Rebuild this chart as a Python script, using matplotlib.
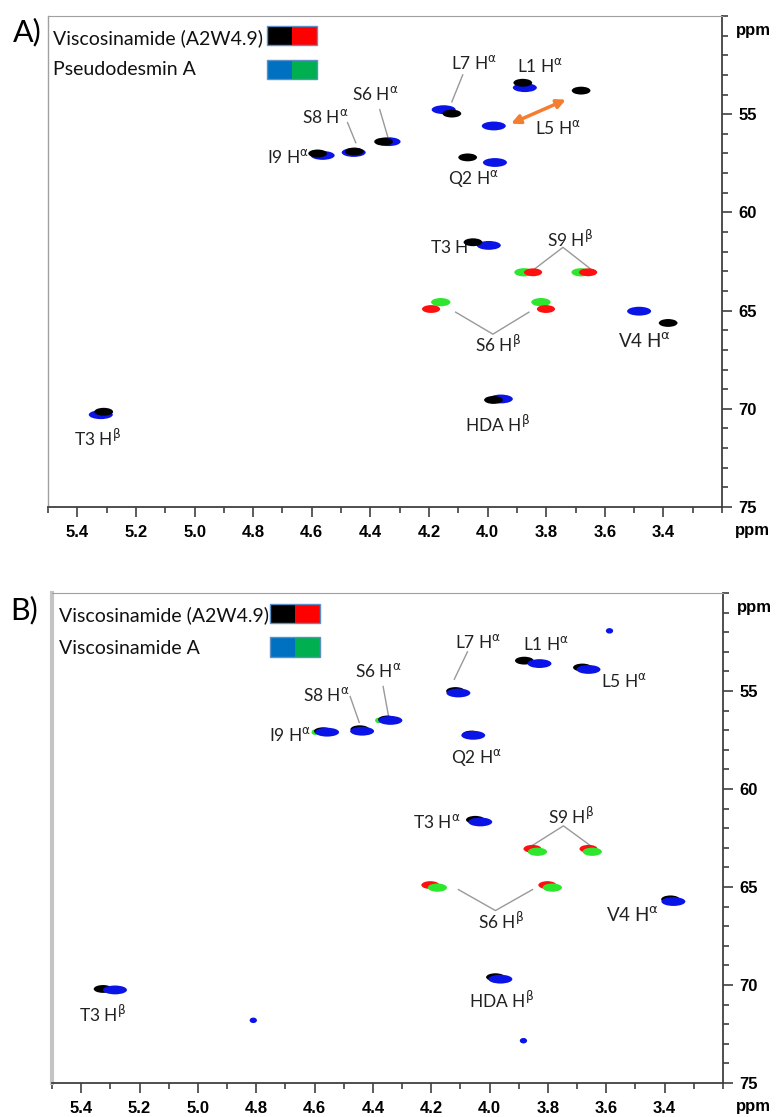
import matplotlib.pyplot as plt
from matplotlib.patches import Ellipse, Rectangle
from matplotlib.ticker import MultipleLocator

plt.rcParams['font.family'] = ['Lato', 'DejaVu Sans']
plt.rcParams['mathtext.fontset'] = 'dejavusans'

# Peak positions: 1H shift (ppm), 13C shift (ppm)
# Panel A - Viscosinamide (A2W4.9) vs Pseudodesmin A
a_black_h = [4.58, 4.455, 4.355, 4.122, 3.880, 3.681, 4.068, 4.050, 3.384, 5.310, 3.980]
a_black_c = [57.0, 56.90, 56.40, 54.97, 53.40, 53.80, 57.20, 61.52, 65.63, 70.15, 69.55]
a_blue_h = [4.563, 4.457, 4.338, 4.150, 3.873, 3.979, 3.975, 3.996, 3.483, 5.320, 3.955]
a_blue_c = [57.10, 56.95, 56.40, 54.77, 53.65, 55.60, 57.46, 61.68, 65.03, 70.30, 69.50]
a_red_h = [3.845, 3.657, 4.193, 3.801]
a_red_c = [63.05, 63.05, 64.92, 64.92]
a_green_h = [3.876, 3.681, 4.160, 3.818]
a_green_c = [63.05, 63.05, 64.57, 64.57]

# Panel B - Viscosinamide (A2W4.9) vs Viscosinamide A
b_black_h = [4.570, 4.445, 4.350, 4.117, 3.881, 3.682, 4.062, 4.049, 3.380, 5.325, 3.980]
b_black_c = [57.05, 56.95, 56.45, 55.00, 53.45, 53.80, 57.22, 61.57, 65.63, 70.20, 69.60]
b_blue_h = [4.557, 4.437, 4.340, 4.107, 3.829, 3.661, 4.056, 4.032, 3.370, 5.284, 3.963]
b_blue_c = [57.10, 57.05, 56.50, 55.10, 53.60, 53.90, 57.26, 61.68, 65.74, 70.25, 69.70]
b_blue_small_h = [3.589, 4.810, 3.884]
b_blue_small_c = [51.93, 71.80, 72.84]
b_red_h = [3.853, 3.661, 4.203, 3.802]
b_red_c = [63.05, 63.05, 64.90, 64.90]
b_green_h = [3.836, 3.648, 4.179, 3.785]
b_green_c = [63.20, 63.20, 65.03, 65.03]
b_green_small_h = [4.598, 4.380]
b_green_small_c = [57.10, 56.50]

x_ticks = [5.4, 5.2, 5.0, 4.8, 4.6, 4.4, 4.2, 4.0, 3.8, 3.6, 3.4]
y_ticks = [55, 60, 65, 70, 75]

A = r'H$^{\mathrm{\alpha}}$'
B = r'H$^{\mathrm{\beta}}$'

a_labels = [('S6 ' + A, 4.382, 53.96), ('S8 ' + A, 4.553, 55.13), ('I9 ' + A, 4.68, 57.2),
            ('L7 ' + A, 4.047, 52.39), ('L1 ' + A, 3.821, 52.54), ('L5 ' + A, 3.76, 55.69),
            ('Q2 ' + A, 4.047, 58.3), ('T3 ' + A, 4.115, 61.78), ('S9 ' + B, 3.72, 61.37),
            ('S6 ' + B, 3.965, 66.7), ('V4 ' + A, 3.466, 66.55), ('HDA ' + B, 3.965, 70.76),
            ('T3 ' + B, 5.33, 71.5)]
b_labels = [('S6 ' + A, 4.38, 54.0), ('S8 ' + A, 4.56, 55.2), ('I9 ' + A, 4.684, 57.26),
            ('L7 ' + A, 4.04, 52.5), ('L1 ' + A, 3.805, 52.6), ('L5 ' + A, 3.54, 54.5),
            ('Q2 ' + A, 4.045, 58.4), ('T3 ' + A, 4.18, 61.7), ('S9 ' + B, 3.72, 61.4),
            ('S6 ' + B, 3.96, 66.75), ('V4 ' + A, 3.51, 66.45), ('HDA ' + B, 3.96, 70.76),
            ('T3 ' + B, 5.325, 71.5)]

a_lines = [[(4.368, 54.77), (4.341, 56.14)],
           [(4.478, 55.43), (4.45, 56.45)],
           [(4.085, 53.0), (4.122, 54.37)],
           [(3.845, 62.94), (3.743, 61.78), (3.647, 62.9)],
           [(4.109, 65.08), (3.982, 66.2), (3.859, 65.08)]]
b_lines = [[(4.365, 54.77), (4.347, 56.24)],
           [(4.478, 55.28), (4.447, 56.6)],
           [(4.076, 53.0), (4.121, 54.4)],
           [(3.86, 62.94), (3.747, 61.88), (3.644, 63.0)],
           [(4.107, 65.13), (3.98, 66.2), (3.853, 65.13)]]

PEAK_COL = {'black': '#000000', 'blue': '#0a14e6', 'red': '#ff1010', 'green': '#2ee62e'}
PEAK_SIZE = {'black': (0.064, 0.40), 'blue': (0.082, 0.45), 'red': (0.062, 0.40),
             'green': (0.066, 0.42), 'small': (0.025, 0.28)}
TICK_FONT = dict(family=['Liberation Sans', 'DejaVu Sans'], weight='bold', size=12)


def draw_peaks(ax, xs, ys, col, size_key, z):
    w, h = PEAK_SIZE[size_key]
    for x, y in zip(xs, ys):
        ax.add_patch(Ellipse((x, y), w, h, facecolor=PEAK_COL[col], edgecolor='none', zorder=z))


def setup_axes(ax, left_spine):
    ax.set_xlim(5.5, 3.2)
    ax.set_ylim(75, 50)
    ax.set_xticks(x_ticks)
    ax.set_xticklabels([f'{t:.1f}' for t in x_ticks], **TICK_FONT)
    ax.xaxis.set_minor_locator(MultipleLocator(0.1))
    ax.yaxis.tick_right()
    ax.set_yticks(y_ticks)
    ax.set_yticklabels([str(t) for t in y_ticks], **TICK_FONT)
    ax.yaxis.set_minor_locator(MultipleLocator(1))
    ax.tick_params(which='both', direction='out', color='#404040', width=1.2)
    ax.tick_params(which='major', length=7)
    ax.tick_params(which='minor', length=4)
    ax.tick_params(axis='x', pad=6)
    ax.tick_params(axis='y', pad=5)
    ax.spines['top'].set_color('#a0a0a0')
    ax.spines['left'].set_color(left_spine[0])
    ax.spines['left'].set_linewidth(left_spine[1])
    ax.spines['right'].set_color('#404040')
    ax.spines['bottom'].set_color('#404040')
    ax.spines['right'].set_linewidth(1.3)
    ax.spines['bottom'].set_linewidth(1.3)
    ax.text(1.047, 0.97, 'ppm', transform=ax.transAxes, ha='center', va='center', **TICK_FONT)
    ax.text(1.045, -0.047, 'ppm', transform=ax.transAxes, ha='center', va='center', **TICK_FONT)


def draw_legend(ax, names, ys_text, sw_boxes, x_text):
    cols = [('#000000', '#ff0000'), ('#0070c0', '#00b050')]
    for name, yt, (y0, y1), (c1, c2) in zip(names, ys_text, sw_boxes, cols):
        ax.text(x_text, yt, name, transform=ax.transAxes, fontsize=14, ha='left', va='center', color='#111111')
        ax.add_patch(Rectangle((0.325, y0), 0.037, y1 - y0, transform=ax.transAxes,
                               facecolor=c1, edgecolor='none', zorder=5))
        ax.add_patch(Rectangle((0.362, y0), 0.037, y1 - y0, transform=ax.transAxes,
                               facecolor=c2, edgecolor='none', zorder=5))
        ax.add_patch(Rectangle((0.325, y0), 0.074, y1 - y0, transform=ax.transAxes,
                               facecolor='none', edgecolor='#5b8fc7', lw=1.0, zorder=6))


def draw_labels(ax, labels, lines):
    for txt, x, y in labels:
        fs = 13.5 if txt.startswith('V4') else 12.5
        ax.text(x, y, txt, ha='center', va='center', fontsize=fs, color='#222222', zorder=2)
    for seg in lines:
        ax.plot([p[0] for p in seg], [p[1] for p in seg], color='#999999', lw=1.0, zorder=1)


fig = plt.figure(figsize=(7.76, 11.17), dpi=100)

# ---------------- Panel A ----------------
axA = fig.add_axes([0.0619, 0.5461, 0.8686, 0.4396])
setup_axes(axA, ('#a0a0a0', 1.0))
draw_labels(axA, a_labels, a_lines)
draw_peaks(axA, a_blue_h, a_blue_c, 'blue', 'blue', 3)
draw_peaks(axA, a_black_h, a_black_c, 'black', 'black', 4)
draw_peaks(axA, a_green_h, a_green_c, 'green', 'green', 3)
draw_peaks(axA, a_red_h, a_red_c, 'red', 'red', 4)
axA.annotate('', xy=(3.733, 54.26), xytext=(3.92, 55.48),
             arrowprops=dict(arrowstyle='<|-|>', color='#f47d30', lw=2.5, mutation_scale=13,
                             shrinkA=0, shrinkB=0), zorder=5)
draw_legend(axA, ['Viscosinamide (A2W4.9)', 'Pseudodesmin A'], [0.955, 0.89],
            [(0.941, 0.9796), (0.872, 0.9104)], 0.0074)
fig.text(0.017, 0.971, 'A)', fontsize=22, ha='left', va='center')

# ---------------- Panel B ----------------
axB = fig.add_axes([0.067, 0.0304, 0.8647, 0.4387])
setup_axes(axB, ('#c4c4c4', 3.0))
draw_labels(axB, b_labels, b_lines)
draw_peaks(axB, b_black_h, b_black_c, 'black', 'black', 3)
draw_peaks(axB, b_blue_h, b_blue_c, 'blue', 'blue', 4)
draw_peaks(axB, b_blue_small_h, b_blue_small_c, 'blue', 'small', 4)
draw_peaks(axB, b_red_h, b_red_c, 'red', 'red', 3)
draw_peaks(axB, b_green_h, b_green_c, 'green', 'green', 4)
draw_peaks(axB, b_green_small_h, b_green_small_c, 'green', 'small', 2)
draw_legend(axB, ['Viscosinamide (A2W4.9)', 'Viscosinamide A'], [0.955, 0.886],
            [(0.9388, 0.9776), (0.869, 0.9102)], 0.0104)
fig.text(0.013, 0.454, 'B)', fontsize=22, ha='left', va='center')

fig.savefig('out.png', dpi=100)
